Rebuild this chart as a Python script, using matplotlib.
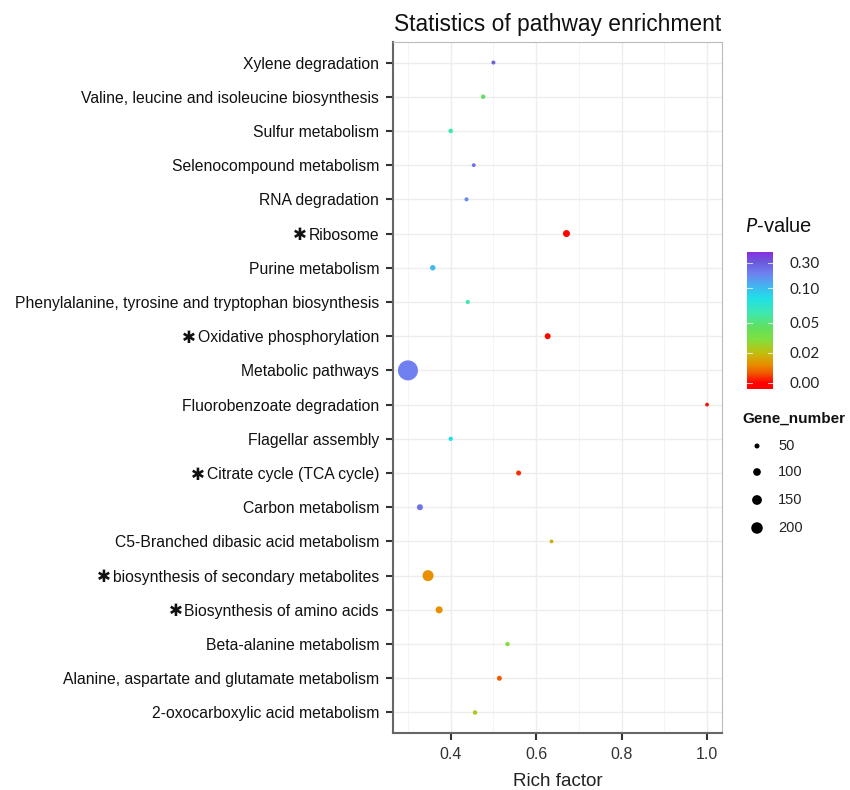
import numpy as np
import matplotlib
matplotlib.use("Agg")
import matplotlib.pyplot as plt
from matplotlib.colors import LinearSegmentedColormap

plt.rcParams['font.family'] = ['Liberation Sans', 'DejaVu Sans']
plt.rcParams['mathtext.fontset'] = 'custom'
plt.rcParams['mathtext.it'] = 'Lato:italic'
plt.rcParams['mathtext.rm'] = 'Lato'

# ---------------- data ----------------
pathways = [
    "Xylene degradation",
    "Valine, leucine and isoleucine biosynthesis",
    "Sulfur metabolism",
    "Selenocompound metabolism",
    "RNA degradation",
    "Ribosome",
    "Purine metabolism",
    "Phenylalanine, tyrosine and tryptophan biosynthesis",
    "Oxidative phosphorylation",
    "Metabolic pathways",
    "Fluorobenzoate degradation",
    "Flagellar assembly",
    "Citrate cycle (TCA cycle)",
    "Carbon metabolism",
    "C5-Branched dibasic acid metabolism",
    "biosynthesis of secondary metabolites",
    "Biosynthesis of amino acids",
    "Beta-alanine metabolism",
    "Alanine, aspartate and glutamate metabolism",
    "2-oxocarboxylic acid metabolism",
]
starred = [False, False, False, False, False, True, False, False, True, False,
           False, False, True, False, False, True, True, False, False, False]
rich_factor = [0.50, 0.476, 0.40, 0.454, 0.437, 0.671, 0.358, 0.44, 0.627, 0.30,
               1.00, 0.40, 0.559, 0.328, 0.636, 0.347, 0.373, 0.533, 0.514, 0.457]
p_value = [0.28, 0.046, 0.063, 0.25, 0.20, 0.0005, 0.10, 0.065, 0.0008, 0.21,
           0.001, 0.085, 0.0033, 0.24, 0.017, 0.0125, 0.0125, 0.033, 0.007, 0.024]
gene_number = [36, 42, 44, 34, 36, 86, 57, 38, 67, 548,
               33, 40, 50, 67, 33, 185, 86, 40, 50, 42]

x_ticks = [0.4, 0.6, 0.8, 1.0]
p_ticks = [0.00, 0.02, 0.05, 0.10, 0.30]
p_tick_labels = ["0.00", "0.02", "0.05", "0.10", "0.30"]
size_legend = [50, 100, 150, 200]

# colour bar layout (fraction along the bar for each p tick)
p_breaks = [0.0, 0.02, 0.05, 0.10, 0.30, 0.345]
frac_breaks = [0.044, 0.263, 0.482, 0.737, 0.92, 1.0]

cmap = LinearSegmentedColormap.from_list("pv", [
    (0.0, "#FF0000"), (0.044, "#FF0000"), (0.12, "#F06000"), (0.18, "#E89000"),
    (0.263, "#C0C010"), (0.36, "#80E040"), (0.45, "#60E060"), (0.55, "#40E8B0"),
    (0.66, "#20E0E8"), (0.74, "#40B8F0"), (0.84, "#7080F0"), (0.92, "#6A5ADC"),
    (1.0, "#8A2BE2")])


def p_to_frac(p):
    return np.interp(p, p_breaks, frac_breaks)


def size_pt2(n):
    d_px = -1.5 + 0.919 * np.sqrt(np.asarray(n, dtype=float))
    return (d_px * 0.72) ** 2


W, H = 850, 790
fig = plt.figure(figsize=(W / 100, H / 100), dpi=100)

# ---------------- main axes ----------------
L, R, T, B = 393, 722, 42, 733
ax = fig.add_axes([L / W, 1 - B / H, (R - L) / W, (B - T) / H])
n = len(pathways)
ypos = np.arange(n)
colors = cmap(p_to_frac(p_value))
ax.scatter(rich_factor, ypos, s=size_pt2(gene_number), c=colors,
           linewidths=0, zorder=3)
ax.set_ylim(n - 1 + 0.6, -0.6)
ax.set_xlim(0.265, 1.035)
ax.set_yticks(ypos)
ax.set_yticklabels(pathways, fontsize=11.3, color="#111111")
ax.set_xticks(x_ticks)
ax.set_xticklabels([f"{v:.1f}" for v in x_ticks], fontsize=11.5, color="#333333")
ax.set_xticks([0.3, 0.5, 0.7, 0.9], minor=True)
ax.grid(True, which="major", color="#EDEDED", lw=1.0, zorder=0)
ax.grid(True, which="minor", axis="x", color="#F3F3F3", lw=0.6, zorder=0)
ax.set_axisbelow(True)
ax.tick_params(axis="both", which="major", length=5, width=1.5, color="#333333")
ax.tick_params(axis="y", pad=5)
ax.tick_params(axis="x", pad=5)
ax.tick_params(axis="x", which="minor", length=0)
for s in ["top", "right"]:
    ax.spines[s].set_color("#BBBBBB")
    ax.spines[s].set_linewidth(0.8)
for s in ["left", "bottom"]:
    ax.spines[s].set_color("#666666")
    ax.spines[s].set_linewidth(1.5)
ax.set_xlabel("Rich factor", fontsize=13.5, color="#222222", labelpad=8)
ax.set_title("Statistics of pathway enrichment", fontsize=16.4, color="#111111", pad=8)

# ---------------- colour bar ----------------
cx0, cx1, cy0, cy1 = 747, 773, 252, 389
cax = fig.add_axes([cx0 / W, 1 - cy1 / H, (cx1 - cx0) / W, (cy1 - cy0) / H])
grad = np.linspace(0, 1, 256).reshape(-1, 1)
cax.imshow(grad, aspect="auto", cmap=cmap, origin="lower", extent=[0, 1, 0, 1])
cax.set_xlim(0, 1)
cax.set_ylim(0, 1)
tick_fracs = p_to_frac(p_ticks)
for f in tick_fracs:
    cax.plot([0, 0.2], [f, f], color="white", lw=0.8, alpha=0.7)
    cax.plot([0.8, 1], [f, f], color="white", lw=0.8, alpha=0.7)
cax.set_xticks([])
cax.yaxis.tick_right()
cax.set_yticks(tick_fracs)
cax.set_yticklabels(p_tick_labels, fontsize=11, family="Lato", color="#222222")
cax.tick_params(axis="y", length=0, pad=12)
for s in cax.spines.values():
    s.set_visible(False)

fig.text(745 / W, 1 - 227 / H, r"$\mathit{P}$-value", fontsize=14.5, va="center",
         ha="left", color="#111111")

# ---------------- size legend ----------------
lax = fig.add_axes([0, 0, 1, 1], zorder=-1)
lax.set_xlim(0, W)
lax.set_ylim(H, 0)
lax.axis("off")
fig.text(742 / W, 1 - 419 / H, "Gene_number", fontsize=11, fontweight="bold",
         va="center", ha="left", color="#111111")
leg_y = [446, 472, 500, 528]
lax.scatter([757] * len(size_legend), leg_y, s=size_pt2(size_legend), c="black",
            linewidths=0)
for yy, v in zip(leg_y, size_legend):
    lax.text(778, yy, str(v), fontsize=10.5, va="center", ha="left", color="#222222")

# ---------------- asterisks in front of significant pathways ----------------
fig.canvas.draw()
renderer = fig.canvas.get_renderer()
inv = fig.transFigure.inverted()
for lbl, s in zip(ax.get_yticklabels(), starred):
    if not s:
        continue
    bb = lbl.get_window_extent(renderer)
    xf, yf = inv.transform((bb.x0 - 2, (bb.y0 + bb.y1) / 2))
    fig.text(xf, yf, "\u2731", fontsize=12, family="DejaVu Sans", ha="right",
             va="center", color="#111111")

fig.savefig("out.png", dpi=100)
